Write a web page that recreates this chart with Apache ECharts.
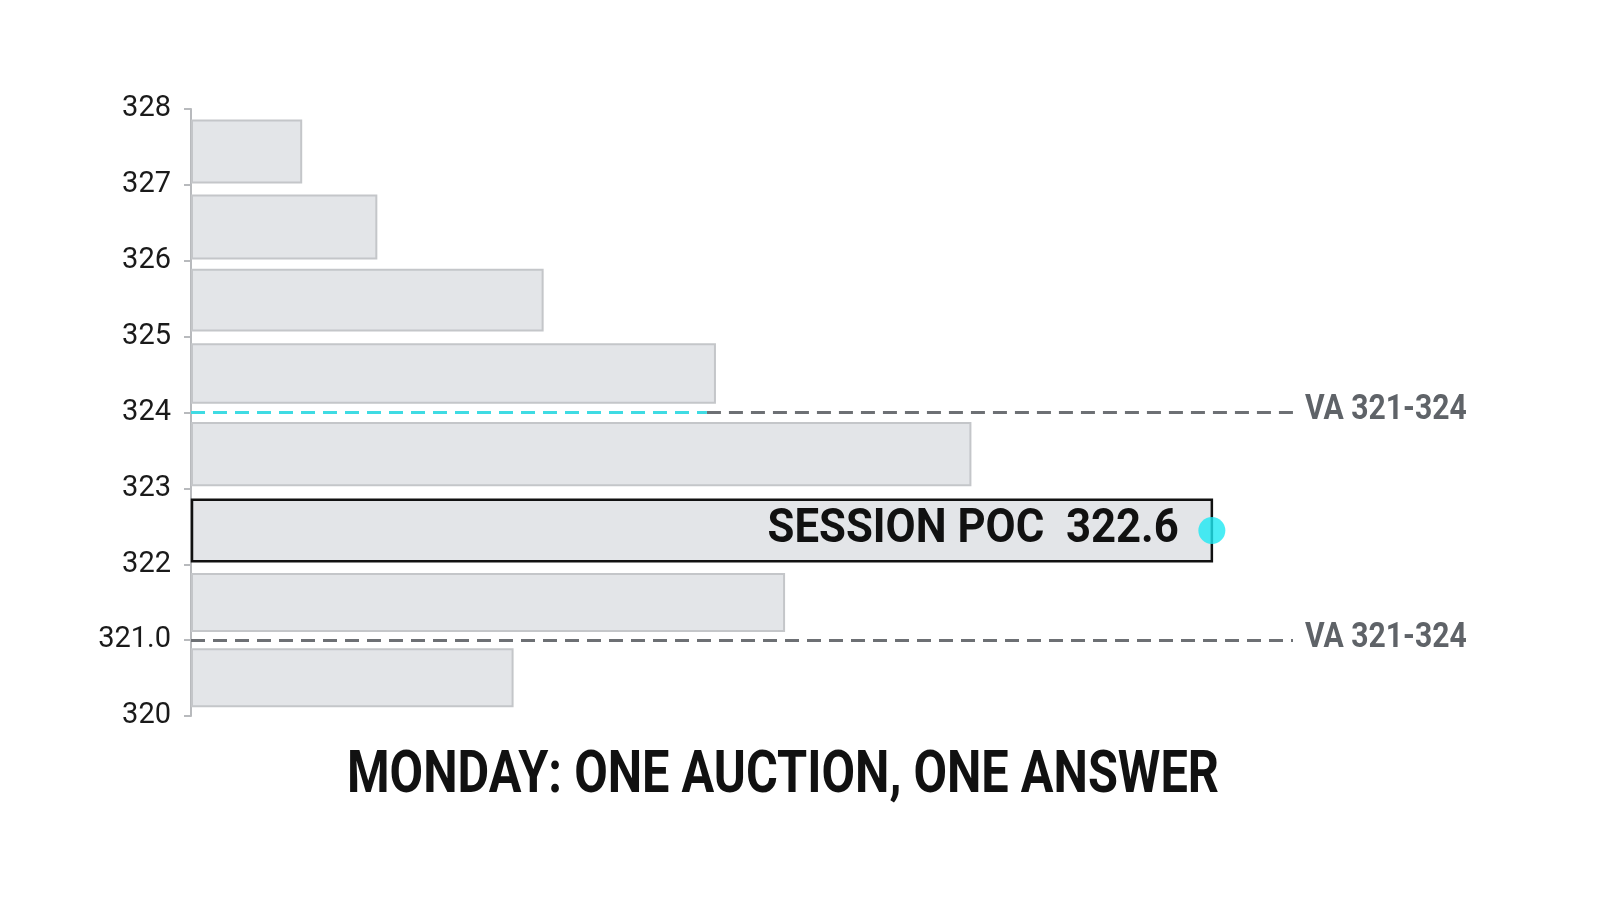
<!DOCTYPE html>
<html><head><meta charset="utf-8">
<script src="https://cdn.jsdelivr.net/npm/echarts@6/dist/echarts.min.js"></script>
<style>html,body{margin:0;padding:0;background:#fff}#c{width:1600px;height:914px}</style>
</head><body><div id="c"></div>
<script>
// price bins (low, high) and volume per bin
const binLow  = [327.03, 326.03, 325.08, 324.13, 323.04, 322.04, 321.12, 320.13];
const binHigh = [327.85, 326.86, 325.88, 324.90, 323.86, 322.85, 321.87, 320.88];
const volume  = [110, 185, 351, 523, 778, 1019, 592, 321];
const pocIndex = 5;
const pocPrice = 322.6;
const vaLow = 321, vaHigh = 324;
const cyanEnd = 515;
const tickValues = [320, 321, 322, 323, 324, 325, 326, 327, 328];
const tickLabels = ['320', '321.0', '322', '323', '324', '325', '326', '327', '328'];
const titleText = 'MONDAY: ONE AUCTION, ONE ANSWER';
const xMax = 1100;

const FONT = 'Roboto, "Noto Sans", sans-serif';
const chart = echarts.init(document.getElementById('c'));
const barData = volume.map((v, i) => [binLow[i], binHigh[i], v, i]);
const vaLabel = 'VA ' + vaLow + '-' + vaHigh;
const pocY = (binLow[pocIndex] + binHigh[pocIndex]) / 2;

chart.setOption({
  animation: false,
  graphic: [{
    type: 'text', x: 783, y: 777, scaleX: 0.825,
    style: {
      text: titleText, textAlign: 'center', textVerticalAlign: 'middle',
      font: 'bold 59px ' + FONT, fill: '#111'
    }
  }],
  grid: { left: 191, right: 307, top: 109, bottom: 198 },
  xAxis: { type: 'value', min: 0, max: xMax, show: false },
  yAxis: {
    type: 'value', min: 320, max: 328, interval: 1,
    axisLine: { show: true, lineStyle: { color: '#b8babd', width: 2 } },
    axisTick: { show: true, length: 7, lineStyle: { color: '#b8babd', width: 2 } },
    splitLine: { show: false },
    axisLabel: {
      margin: 20, fontFamily: FONT, fontSize: 29, color: '#1a1a1a',
      formatter: v => tickLabels[tickValues.indexOf(Math.round(v))] || ''
    }
  },
  series: [
    {
      type: 'custom', z: 2,
      data: barData,
      encode: { x: 2, y: [0, 1] },
      renderItem: (params, api) => {
        const lo = api.value(0), hi = api.value(1), v = api.value(2), idx = api.value(3);
        const p0 = api.coord([0, hi]);
        const p1 = api.coord([v, lo]);
        const poc = idx === pocIndex;
        return {
          type: 'rect',
          shape: { x: p0[0] + 1, y: p0[1], width: p1[0] - p0[0] - 1, height: p1[1] - p0[1] },
          style: { fill: '#e3e5e8', stroke: poc ? '#111' : '#c4c6c9', lineWidth: poc ? 2.5 : 2 }
        };
      }
    },
    {
      type: 'line', z: 3, symbol: 'none', data: [],
      markLine: {
        silent: true, symbol: 'none',
        data: [
          [{ coord: [cyanEnd, vaHigh], lineStyle: { color: '#6d7074' } },
           { coord: [xMax, vaHigh] }],
          [{ coord: [0, vaHigh], lineStyle: { color: '#3fdbe3' } },
           { coord: [cyanEnd, vaHigh] }],
          [{ coord: [0, vaLow], lineStyle: { color: '#6d7074' } },
           { coord: [xMax, vaLow] }]
        ],
        lineStyle: { type: [14, 8], width: 3 },
        label: { show: false }
      }
    },
    {
      // VA labels at the right end of the dashed lines
      type: 'custom', z: 4,
      data: [[xMax, vaHigh], [xMax, vaLow]],
      renderItem: (params, api) => {
        const p = api.coord([api.value(0), api.value(1)]);
        return {
          type: 'text', x: p[0] + 12, y: p[1] - 2, scaleX: 0.86,
          style: {
            text: vaLabel, textAlign: 'left', textVerticalAlign: 'middle',
            font: 'bold 35px ' + FONT, fill: '#5f6368'
          }
        };
      }
    },
    {
      type: 'scatter', z: 5,
      data: [[volume[pocIndex], pocY]],
      symbolSize: 27,
      itemStyle: { color: '#1de9f2' }
    },
    {
      // POC label
      type: 'custom', z: 6,
      data: [[volume[pocIndex], pocY]],
      renderItem: (params, api) => {
        const p = api.coord([api.value(0), api.value(1)]);
        return {
          type: 'text', x: p[0] - 33, y: p[1], scaleX: 0.91,
          style: {
            text: 'SESSION POC  ' + pocPrice.toFixed(1), textAlign: 'right', textVerticalAlign: 'middle',
            font: 'bold 48px ' + FONT, fill: '#111'
          }
        };
      }
    }
  ]
});
</script></body></html>
